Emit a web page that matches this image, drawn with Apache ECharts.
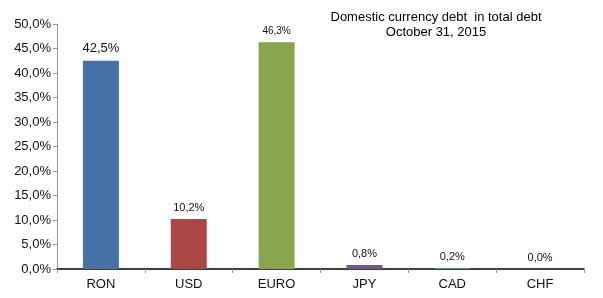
<!DOCTYPE html>
<html lang="en">
<head>
    <meta charset="UTF-8">
    <title>Domestic currency debt in total debt</title>
    <script src="https://cdn.jsdelivr.net/npm/echarts@6/dist/echarts.min.js"></script>
    <style>
        html, body { margin: 0; padding: 0; background: #ffffff; }
        #chart { width: 603px; height: 298px; }
    </style>
</head>
<body>
    <div id="chart"></div>
    <script>
        // chart data
        const currencies = ['RON', 'USD', 'EURO', 'JPY', 'CAD', 'CHF'];
        const shares = [42.5, 10.2, 46.3, 0.8, 0.2, 0.0];
        const barColors = ['#4571a7', '#aa4644', '#89a54e', '#71588f', '#4198af', '#db843d'];
        const yTicks = [0, 5, 10, 15, 20, 25, 30, 35, 40, 45, 50];

        const fmt = v => v.toFixed(1).replace('.', ',') + '%';
        const labelSizes = [13, 11, 10, 11, 11, 11];

        const chart = echarts.init(document.getElementById('chart'));

        chart.setOption({
            animation: false,
            textStyle: { fontFamily: 'Liberation Sans, Arial, sans-serif' },
            title: {
                text: 'Domestic currency debt  in total debt\nOctober 31, 2015',
                left: 431,
                top: 5,
                textAlign: 'center',
                textStyle: {
                    fontSize: 13,
                    fontWeight: 'normal',
                    color: '#000',
                    lineHeight: 15
                }
            },
            grid: { left: 57, right: 19, top: 24, bottom: 29 },
            xAxis: {
                type: 'category',
                data: currencies,
                axisLine: { lineStyle: { color: '#000', width: 1.5 } },
                axisTick: { show: true, length: 4, lineStyle: { color: '#999' } },
                axisLabel: { color: '#111', fontSize: 13, margin: 9 }
            },
            yAxis: {
                type: 'value',
                min: yTicks[0],
                max: yTicks[yTicks.length - 1],
                interval: 5,
                axisLine: { show: true, lineStyle: { color: '#999' } },
                axisTick: { show: true, length: 4, lineStyle: { color: '#999' } },
                splitLine: { show: false },
                axisLabel: { color: '#111', fontSize: 13, margin: 6, formatter: fmt }
            },
            series: [{
                type: 'bar',
                barWidth: 36,
                data: shares.map((v, i) => ({
                    value: v,
                    itemStyle: { color: barColors[i] },
                    label: { fontSize: labelSizes[i] }
                })),
                label: {
                    show: true,
                    position: 'top',
                    distance: 6,
                    color: '#111',
                    formatter: p => fmt(p.value)
                }
            }]
        });

        window.addEventListener('resize', () => chart.resize());
    </script>
</body>
</html>
